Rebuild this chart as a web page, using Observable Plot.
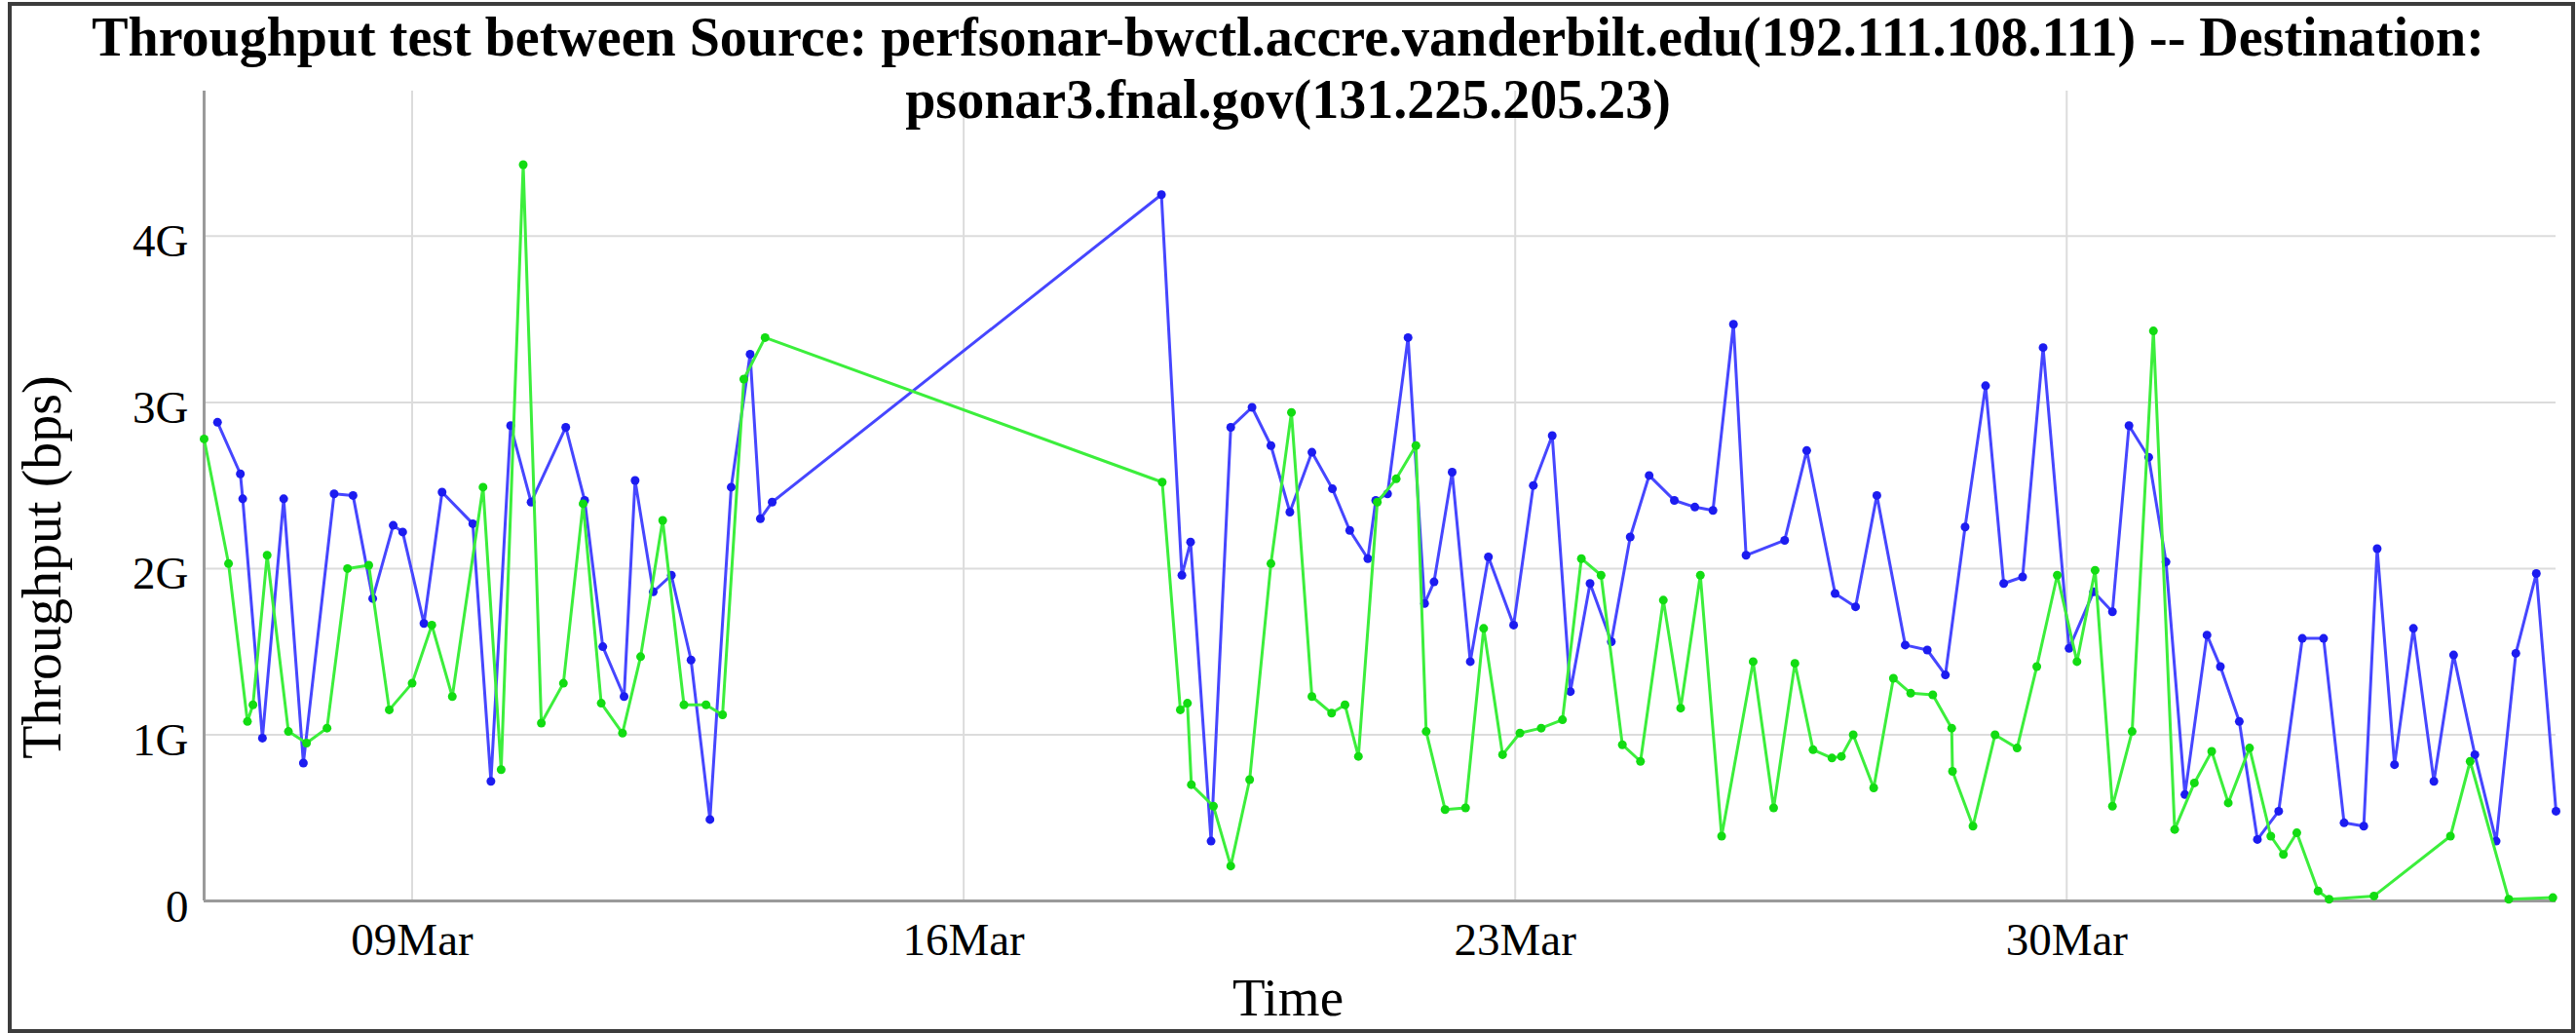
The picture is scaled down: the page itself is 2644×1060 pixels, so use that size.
<!DOCTYPE html>
<html>
<head>
<meta charset="utf-8">
<script src="https://cdn.jsdelivr.net/npm/d3@7"></script>
<script src="https://cdn.jsdelivr.net/npm/@observablehq/plot@0.6"></script>
<style>
  html, body { margin: 0; padding: 0; background: #fff; }
  #wrap { position: relative; width: 2644px; height: 1060px; overflow: hidden; }
  #wrap > svg { position: absolute; left: 0; top: 0; }
  #frame { position: absolute; left: 8px; top: 2px; width: 2627px; height: 1050px;
           border: 4px solid #3c3c3c; pointer-events: none; }
</style>
</head>
<body>
<div id="wrap"><div id="frame"></div></div>
<script>
// Time is given as fractional day of March 2015 (values > 31 run into April)
const blueDays = [6.53, 6.82, 6.85, 7.10, 7.37, 7.62, 8.01, 8.25, 8.50, 8.76, 8.88, 9.15, 9.38, 9.77, 10.00, 10.25, 10.51, 10.95, 11.19, 11.42,
  11.69, 11.83, 12.06, 12.29, 12.54, 12.78, 13.05, 13.29, 13.42, 13.57, 18.51, 18.77, 18.88, 19.14, 19.39, 19.66, 19.90, 20.14, 20.42, 20.68,
  20.90, 21.13, 21.23, 21.38, 21.64, 21.85, 21.97, 22.20, 22.43, 22.66, 22.98, 23.23, 23.47, 23.70, 23.95, 24.22, 24.46, 24.70, 25.02, 25.28,
  25.51, 25.77, 25.93, 26.42, 26.70, 27.06, 27.32, 27.59, 27.95, 28.23, 28.46, 28.71, 28.97, 29.20, 29.44, 29.70, 30.03, 30.34, 30.58, 30.79,
  31.04, 31.26, 31.50, 31.78, 31.95, 32.19, 32.42, 32.69, 32.99, 33.26, 33.52, 33.77, 33.94, 34.16, 34.40, 34.66, 34.91, 35.18, 35.45, 35.70,
  35.96, 36.21];
// Throughput in Gbps
const blueValues = [2.88, 2.57, 2.42, 0.98, 2.42, 0.83, 2.45, 2.44, 1.82, 2.26, 2.22, 1.67, 2.46, 2.27, 0.72, 2.86, 2.40, 2.85, 2.41, 1.53,
  1.23, 2.53, 1.86, 1.96, 1.45, 0.49, 2.49, 3.29, 2.30, 2.40, 4.25, 1.96, 2.16, 0.36, 2.85, 2.97, 2.74, 2.34, 2.70, 2.48,
  2.23, 2.06, 2.41, 2.45, 3.39, 1.79, 1.92, 2.58, 1.44, 2.07, 1.66, 2.50, 2.80, 1.26, 1.91, 1.56, 2.19, 2.56, 2.41, 2.37,
  2.35, 3.47, 2.08, 2.17, 2.71, 1.85, 1.77, 2.44, 1.54, 1.51, 1.36, 2.25, 3.10, 1.91, 1.95, 3.33, 1.52, 1.86, 1.74, 2.86,
  2.67, 2.04, 0.64, 1.60, 1.41, 1.08, 0.37, 0.54, 1.58, 1.58, 0.47, 0.45, 2.12, 0.82, 1.64, 0.72, 1.48, 0.88, 0.36, 1.49,
  1.97, 0.54];

const greenDays = [6.36, 6.67, 6.91, 6.98, 7.16, 7.43, 7.66, 7.92, 8.18, 8.45, 8.71, 9.00, 9.25, 9.51, 9.90, 10.13, 10.41, 10.64, 10.92, 11.17,
  11.40, 11.67, 11.90, 12.18, 12.45, 12.73, 12.94, 13.21, 13.48, 18.52, 18.75, 18.84, 18.89, 19.17, 19.39, 19.63, 19.90, 20.16, 20.42, 20.67,
  20.84, 21.01, 21.25, 21.49, 21.74, 21.87, 22.11, 22.37, 22.60, 22.84, 23.06, 23.33, 23.60, 23.84, 24.09, 24.36, 24.59, 24.88, 25.10, 25.35,
  25.62, 26.02, 26.28, 26.55, 26.78, 27.02, 27.14, 27.29, 27.55, 27.80, 28.02, 28.30, 28.54, 28.55, 28.81, 29.09, 29.37, 29.62, 29.88, 30.13,
  30.36, 30.58, 30.83, 31.10, 31.37, 31.62, 31.84, 32.05, 32.32, 32.59, 32.75, 32.92, 33.19, 33.33, 33.90, 34.87, 35.12, 35.61, 36.17];
const greenValues = [2.78, 2.03, 1.08, 1.18, 2.08, 1.02, 0.95, 1.04, 2.00, 2.02, 1.15, 1.31, 1.66, 1.23, 2.49, 0.79, 4.43, 1.07, 1.31, 2.39,
  1.19, 1.01, 1.47, 2.29, 1.18, 1.18, 1.12, 3.14, 3.39, 2.52, 1.15, 1.19, 0.70, 0.57, 0.21, 0.73, 2.03, 2.94, 1.23, 1.13,
  1.18, 0.87, 2.40, 2.54, 2.74, 1.02, 0.55, 0.56, 1.64, 0.88, 1.01, 1.04, 1.09, 2.06, 1.96, 0.94, 0.84, 1.81, 1.16, 1.96,
  0.39, 1.44, 0.56, 1.43, 0.91, 0.86, 0.87, 1.00, 0.68, 1.34, 1.25, 1.24, 1.04, 0.78, 0.45, 1.00, 0.92, 1.41, 1.96, 1.44,
  1.99, 0.57, 1.02, 3.43, 0.43, 0.71, 0.90, 0.59, 0.92, 0.39, 0.28, 0.41, 0.06, 0.01, 0.03, 0.39, 0.84, 0.01, 0.02];

const xTickDays = [9, 16, 23, 30];
const yTicks = [0, 1, 2, 3, 4];

const titleLines = [
  "Throughput test between Source: perfsonar-bwctl.accre.vanderbilt.edu(192.111.108.111) -- Destination:",
  "psonar3.fnal.gov(131.225.205.23)"
];
const xLabel = "Time";
const yLabel = "Throughput (bps)";

const toDate = d => new Date(Date.UTC(2015, 2, 1) + (d - 1) * 864e5);
const blue = blueDays.map((d, i) => ({date: toDate(d), value: blueValues[i]}));
const green = greenDays.map((d, i) => ({date: toDate(d), value: greenValues[i]}));
const all = blue.concat(green);
const xDomain = d3.extent(all, d => d.date);
const yMax = d3.max(all, d => d.value) * 1.1;
const xTicks = xTickDays.map(toDate);

const font = "'Liberation Serif', 'Times New Roman', Times, serif";

const chart = Plot.plot({
  width: 2644,
  height: 1060,
  marginLeft: 209,
  marginRight: 21,
  marginTop: 93,
  marginBottom: 136,
  style: {fontFamily: font, fontSize: "47px", color: "#000", background: "transparent", overflow: "visible"},
  x: {type: "utc", domain: xDomain, label: null},
  y: {domain: [0, yMax], label: null},
  marks: [
    Plot.gridX(xTicks, {stroke: "#dcdcdc", strokeOpacity: 1, strokeWidth: 2}),
    Plot.gridY(yTicks.filter(d => d > 0), {stroke: "#dcdcdc", strokeOpacity: 1, strokeWidth: 2}),
    Plot.ruleX([xDomain[0]], {stroke: "#9a9a9a", strokeWidth: 3}),
    Plot.ruleY([0], {stroke: "#9a9a9a", strokeWidth: 3}),
    Plot.axisX(xTicks, {tickSize: 0, tickPadding: 22, tickFormat: d3.utcFormat("%d%b"), label: null, fontSize: 47}),
    Plot.axisY(yTicks, {tickSize: 0, tickPadding: 16, tickFormat: d => d === 0 ? "0" : d + "G", label: null, fontSize: 47, dy: 6}),
    Plot.line(blue, {x: "date", y: "value", stroke: "#4646ff", strokeWidth: 3}),
    Plot.dot(blue, {x: "date", y: "value", r: 4.5, fill: "#1c1cf0", stroke: "none"}),
    Plot.line(green, {x: "date", y: "value", stroke: "#3cee3c", strokeWidth: 3}),
    Plot.dot(green, {x: "date", y: "value", r: 4.5, fill: "#12dc12", stroke: "none"})
  ]
});
document.getElementById("wrap").insertBefore(chart, document.getElementById("frame"));

// Overlay for title and axis titles
const ov = d3.select("#wrap").append("svg")
  .attr("width", 2644).attr("height", 1060)
  .style("position", "absolute").style("left", 0).style("top", 0)
  .style("font-family", font);
ov.selectAll("text.title").data(titleLines).join("text")
  .attr("class", "title")
  .attr("x", 1322).attr("y", (d, i) => 57 + i * 64)
  .attr("text-anchor", "middle").attr("font-weight", "bold").attr("font-size", 56)
  .attr("fill", "#000")
  .text(d => d);
ov.append("text").attr("x", 1322).attr("y", 1042).attr("text-anchor", "middle")
  .attr("font-size", 55).text(xLabel);
ov.append("text").attr("transform", "translate(62,582) rotate(-90)").attr("text-anchor", "middle")
  .attr("font-size", 56).text(yLabel);
</script>
</body>
</html>
